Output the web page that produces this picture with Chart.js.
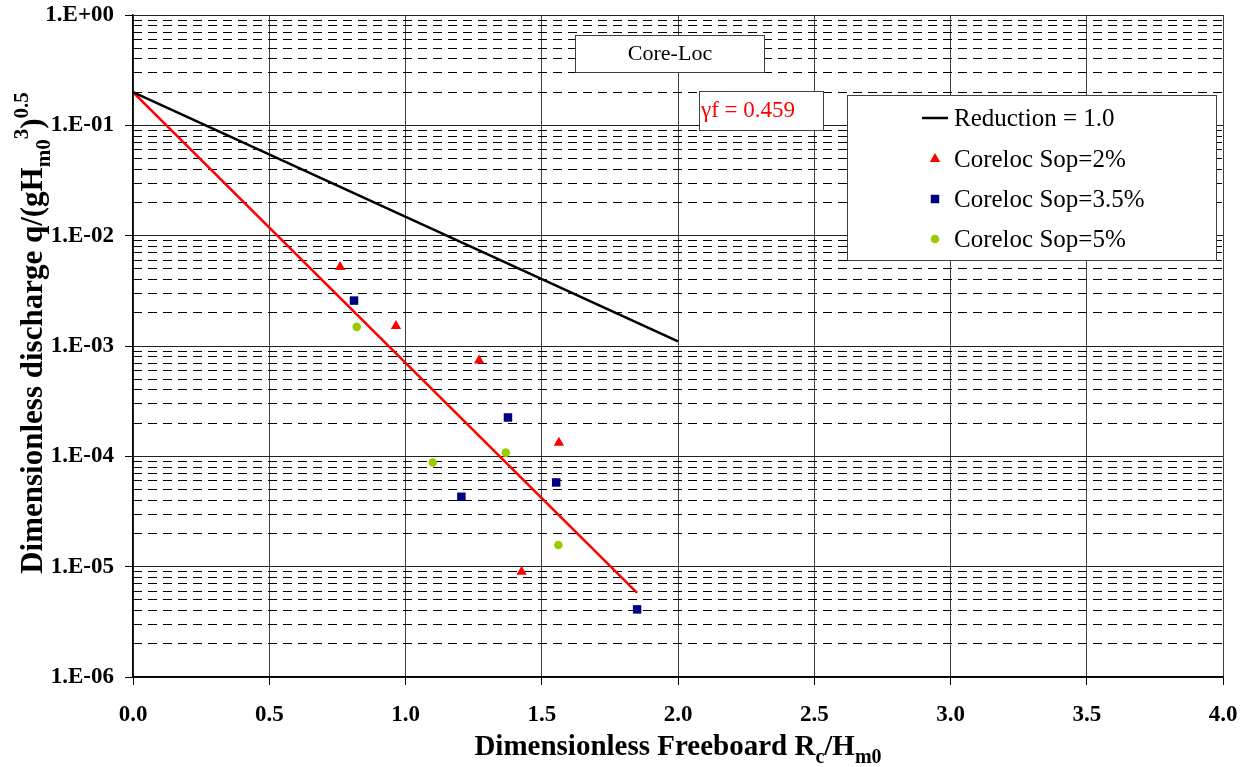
<!DOCTYPE html>
<html>
<head>
<meta charset="utf-8">
<title>Core-Loc overtopping</title>
<script src="https://cdn.jsdelivr.net/npm/chart.js@4.4.0/dist/chart.umd.min.js"></script>
<style>
  html, body { margin: 0; padding: 0; background: #fff; }
</style>
</head>
<body>
<canvas id="overtopping" width="1255" height="767"></canvas>
<script>
// axis ranges and ticks
var xTicks = [0, 0.5, 1.0, 1.5, 2.0, 2.5, 3.0, 3.5, 4.0];
var yDecades = [1e-6, 1e-5, 1e-4, 1e-3, 1e-2, 1e-1, 1];

// reference curves (end points)
var reductionX = [0, 2.0];
var reductionY = [0.2, 0.0011];
var fitX = [0, 1.85];
var fitY = [0.2, 5.8e-6];

// measured points
var sop2X = [0.76, 0.965, 1.27, 1.563, 1.426];
var sop2Y = [5.2e-3, 1.52e-3, 7.4e-4, 1.33e-4, 9.0e-6];
var sop35X = [0.811, 1.376, 1.205, 1.553, 1.85];
var sop35Y = [2.58e-3, 2.25e-4, 4.3e-5, 5.8e-5, 4.1e-6];
var sop5X = [0.821, 1.10, 1.368, 1.561];
var sop5Y = [1.49e-3, 8.8e-5, 1.08e-4, 1.57e-5];

var seriesNames = ['Reduction = 1.0', 'gamma fit', 'Coreloc Sop=2%', 'Coreloc Sop=3.5%', 'Coreloc Sop=5%'];
var fitLabel = '\u03B3f = 0.459';
var boxTitle = 'Core-Loc';

// every 1..9 step of each decade, used for the log grid
var yGridTicks = [];
for (var d = 0; d < yDecades.length - 1; d++) {
  for (var m = 1; m < 10; m++) yGridTicks.push(m * yDecades[d]);
}
yGridTicks.push(1);

function pts(xs, ys) {
  return xs.map(function (x, i) { return { x: x, y: ys[i] }; });
}
function isDecade(v) {
  var l = Math.log10(v);
  return Math.abs(l - Math.round(l)) < 1e-6;
}
function decadeLabel(v) {
  if (!isDecade(v)) return '';
  var e = Math.round(Math.log10(v));
  var s = e < 0 ? '-' : '+';
  var a = Math.abs(e);
  return '1.E' + s + (a < 10 ? '0' : '') + a;
}
function setLogTicks(scale) {
  scale.ticks = yGridTicks.map(function (v) { return { value: v }; });
}

var SERIF = '"Liberation Serif", "Times New Roman", serif';

// text with sub/superscripts: parts = [{t, sub, sup}]
function drawRich(ctx, parts, x, y, size, color) {
  var fonts = parts.map(function (p) {
    var s = (p.sub || p.sup) ? Math.round(size * 0.68) : size;
    return 'bold ' + s + 'px ' + SERIF;
  });
  var total = 0;
  parts.forEach(function (p, i) { ctx.font = fonts[i]; total += ctx.measureText(p.t).width; });
  var cx = x - total / 2;
  ctx.fillStyle = color;
  ctx.textAlign = 'left';
  ctx.textBaseline = 'alphabetic';
  parts.forEach(function (p, i) {
    ctx.font = fonts[i];
    var dy = p.sub ? size * 0.26 : (p.sup ? -size * 0.45 : 0);
    ctx.fillText(p.t, cx, y + dy);
    cx += ctx.measureText(p.t).width;
  });
}

function drawBox(ctx, x1, y1, x2, y2) {
  ctx.fillStyle = '#fff';
  ctx.fillRect(x1, y1, x2 - x1, y2 - y1);
  ctx.strokeStyle = '#404040';
  ctx.lineWidth = 1;
  ctx.strokeRect(x1 + 0.5, y1 + 0.5, x2 - x1, y2 - y1);
}

var extras = {
  id: 'extras',
  afterDraw: function (chart) {
    var ctx = chart.ctx;
    var ds = chart.data.datasets;
    var area = chart.chartArea;
    ctx.save();

    // title box
    drawBox(ctx, 575, 35, 764, 72);
    ctx.fillStyle = '#000';
    ctx.font = '22px ' + SERIF;
    ctx.textAlign = 'center';
    ctx.textBaseline = 'middle';
    ctx.fillText(boxTitle, 670, 54);

    // gamma label
    drawBox(ctx, 699, 91, 823, 130);
    ctx.fillStyle = '#ff0000';
    ctx.textAlign = 'left';
    ctx.font = '23px ' + SERIF;
    ctx.fillText(fitLabel, 701, 111);

    // legend
    drawBox(ctx, 847, 95, 1216, 260);
    var rows = [0, 2, 3, 4];
    var rowY = [118, 159, 199, 239];
    ctx.font = '25px ' + SERIF;
    rows.forEach(function (idx, r) {
      var d = ds[idx];
      var y = rowY[r];
      if (d.showLine) {
        ctx.strokeStyle = d.borderColor;
        ctx.lineWidth = 2.5;
        ctx.beginPath();
        ctx.moveTo(922, y);
        ctx.lineTo(948, y);
        ctx.stroke();
      } else {
        ctx.fillStyle = d.backgroundColor;
        ctx.strokeStyle = d.backgroundColor;
        Chart.helpers.drawPoint(ctx, {
          pointStyle: d.pointStyle, radius: d.pointRadius, borderWidth: 0
        }, 935, y);
      }
      ctx.fillStyle = '#000';
      ctx.textAlign = 'left';
      ctx.textBaseline = 'middle';
      ctx.fillText(d.label, 954, y + 1);
    });

    // axis titles
    drawRich(ctx, [
      { t: 'Dimensionless Freeboard R' }, { t: 'c', sub: true },
      { t: '/H' }, { t: 'm0', sub: true }
    ], (area.left + area.right) / 2, 755, 29, '#000');

    ctx.translate(42, 333);
    ctx.rotate(-Math.PI / 2);
    drawRich(ctx, [
      { t: 'Dimensionless discharge q/(gH' }, { t: 'm0', sub: true },
      { t: '3', sup: true }, { t: ')' }, { t: '0.5', sup: true }
    ], 0, 0, 31, '#000');

    ctx.restore();
  }
};

var ctx = document.getElementById('overtopping').getContext('2d');
var chart = new Chart(ctx, {
  type: 'scatter',
  data: {
    datasets: [{
      label: seriesNames[0],
      data: pts(reductionX, reductionY),
      showLine: true,
      borderColor: '#000',
      borderWidth: 2.5,
      pointRadius: 0,
      order: 1
    }, {
      label: seriesNames[1],
      data: pts(fitX, fitY),
      showLine: true,
      borderColor: '#ff0000',
      borderWidth: 2.5,
      pointRadius: 0,
      order: 1
    }, {
      label: seriesNames[2],
      data: pts(sop2X, sop2Y),
      pointStyle: 'triangle',
      pointRadius: 6,
      backgroundColor: '#ff0000',
      borderColor: '#ff0000',
      borderWidth: 0,
      order: 2
    }, {
      label: seriesNames[3],
      data: pts(sop35X, sop35Y),
      pointStyle: 'rect',
      pointRadius: 6,
      backgroundColor: '#000080',
      borderColor: '#000080',
      borderWidth: 0,
      order: 2
    }, {
      label: seriesNames[4],
      data: pts(sop5X, sop5Y),
      pointStyle: 'circle',
      pointRadius: 4.3,
      backgroundColor: '#99cc00',
      borderColor: '#99cc00',
      borderWidth: 0,
      order: 2
    }]
  },
  options: {
    responsive: false,
    animation: false,
    layout: { padding: { left: 0, top: 15, right: 32, bottom: 0 } },
    plugins: {
      legend: { display: false },
      tooltip: { enabled: false }
    },
    scales: {
      x: {
        type: 'linear',
        min: 0,
        max: 4,
        afterBuildTicks: function (scale) {
          scale.ticks = xTicks.map(function (v) { return { value: v }; });
        },
        afterFit: function (scale) {
          scale.height = 90;
          scale.paddingLeft = 0;
          scale.paddingRight = 0;
        },
        ticks: {
          autoSkip: false,
          padding: 16,
          color: '#000',
          font: { family: SERIF, size: 23, weight: 'bold' },
          callback: function (v) { return Number(v).toFixed(1); }
        },
        grid: { color: '#404040', lineWidth: 1, tickLength: 8, tickColor: '#000' },
        border: { color: '#000', width: 1.5 }
      },
      y: {
        type: 'logarithmic',
        min: 1e-6,
        max: 1,
        position: 'left',
        afterBuildTicks: setLogTicks,
        afterFit: function (scale) {
          scale.width = 133;
          scale.paddingTop = 0;
          scale.paddingBottom = 0;
        },
        ticks: {
          autoSkip: false,
          padding: 11,
          color: '#000',
          font: { family: SERIF, size: 23, weight: 'bold' },
          callback: function (v) { return decadeLabel(v); }
        },
        grid: {
          lineWidth: 1,
          tickLength: 8,
          color: function (c) { return c.tick && isDecade(c.tick.value) ? '#222' : 'rgba(0,0,0,0)'; },
          tickColor: function (c) { return c.tick && isDecade(c.tick.value) ? '#000' : 'rgba(0,0,0,0)'; }
        },
        border: { color: '#000', width: 1.5 }
      },
      yMinor: {
        type: 'logarithmic',
        min: 1e-6,
        max: 1,
        position: 'left',
        afterBuildTicks: setLogTicks,
        afterFit: function (scale) {
          scale.width = 0;
          scale.paddingTop = 0;
          scale.paddingBottom = 0;
        },
        ticks: { display: false },
        grid: {
          drawTicks: false,
          lineWidth: 1,
          color: function (c) { return c.tick && !isDecade(c.tick.value) ? '#000' : 'rgba(0,0,0,0)'; }
        },
        border: { display: false, dash: [9, 6] }
      }
    }
  },
  plugins: [extras]
});
</script>
</body>
</html>
